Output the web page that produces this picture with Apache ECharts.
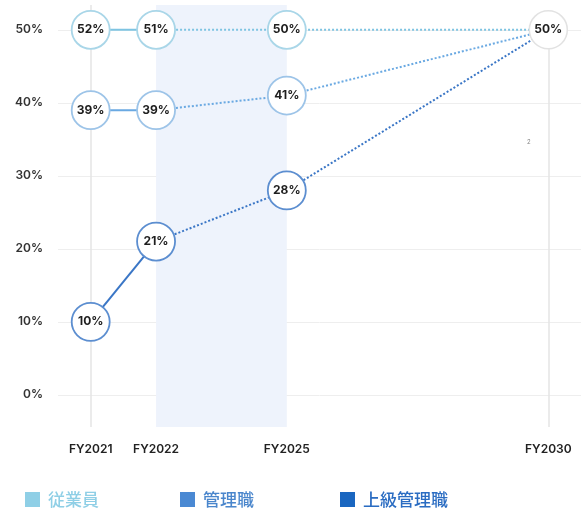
<!DOCTYPE html>
<html>
<head>
<meta charset="utf-8">
<script src="https://cdn.jsdelivr.net/npm/echarts@6/dist/echarts.min.js"></script>
<style>
html,body{margin:0;padding:0;background:#fff;}
#c{width:585px;height:510px;}
</style>
</head>
<body>
<div id="c"></div>
<script>
// ---- data ----
const categories = ['FY2021', 'FY2022', '', 'FY2025', '', '', '', 'FY2030'];
const yearKeys = ['FY2021', 'FY2022', 'FY2025', 'FY2030'];
const employees = [52, 51, 50, 50];
const managers = [39, 39, 41, 50];
const seniorManagers = [10, 21, 28, 50];
const seriesNames = ['従業員', '管理職', '上級管理職'];
const yTicks = [0, 10, 20, 30, 40, 50];
// the original chart draws its top row on the 50% line
const displayCap = 50;

const font = 'Inter, "Noto Sans", sans-serif';
const cjk = '"Noto Sans CJK JP", "Noto Sans", sans-serif';
const yMin = -4.4, yMax = 53.4;

const groups = [
  { name: seriesNames[0], values: employees, color: '#8fcfe6', text: '#8fcfe6', line: '#7ec4e2', border: '#a9d6e8' },
  { name: seriesNames[1], values: managers, color: '#4a89d3', text: '#4a86cc', line: '#6aa9e2', border: '#9dc4e8' },
  { name: seriesNames[2], values: seniorManagers, color: '#1a66c0', text: '#2a6cc2', line: '#3a76c6', border: '#5c8ed0' }
];

const series = [];
// background helper: shaded band + vertical guide lines
series.push({
  name: 'bg', type: 'line', z: 0, data: [], silent: true,
  markArea: {
    silent: true, z: 0,
    itemStyle: { color: '#eef3fc' },
    data: [[{ xAxis: 'FY2022', yAxis: yMax }, { xAxis: 'FY2025', yAxis: yMin }]]
  },
  markLine: {
    silent: true, z: 1, symbol: 'none', label: { show: false },
    lineStyle: { color: '#e4e4e4', width: 1.5, type: 'solid' },
    data: [
      [{ coord: ['FY2021', yMax] }, { coord: ['FY2021', yMin] }],
      [{ coord: ['FY2030', displayCap] }, { coord: ['FY2030', yMin] }]
    ]
  }
});
groups.forEach((g) => {
  const v = g.values;
  const pt = i => [yearKeys[i], Math.min(v[i], displayCap), v[i]];
  series.push({
    name: g.name, type: 'line', color: g.color, z: 2,
    showSymbol: false, symbol: 'none',
    lineStyle: { color: g.line, width: 2, type: 'solid' },
    data: [pt(0), pt(1)]
  });
  series.push({
    name: g.name, type: 'line', color: g.color, z: 2,
    showSymbol: false, symbol: 'none',
    lineStyle: { color: g.line, width: 2, type: [2, 2] },
    data: [pt(1), pt(2), pt(3)]
  });
  series.push({
    name: g.name, type: 'scatter', color: g.color, z: 4,
    symbol: 'circle', symbolSize: 38,
    itemStyle: { color: '#fff', borderColor: g.border, borderWidth: 1.8, opacity: 1 },
    label: {
      show: true, position: 'inside', color: '#1e1e1e',
      fontFamily: font, fontSize: 12, fontWeight: 'bold',
      formatter: p => p.data[2] + '%'
    },
    data: [pt(0), pt(1), pt(2)]
  });
});
// common target point FY2030
series.push({
  name: 'target', type: 'scatter', z: 5,
  symbol: 'circle', symbolSize: 38,
  itemStyle: { color: '#fff', borderColor: '#e2e2e2', borderWidth: 1.5, opacity: 1 },
  label: {
    show: true, position: 'inside', color: '#1e1e1e',
    fontFamily: font, fontSize: 12, fontWeight: 'bold',
    formatter: p => p.data[2] + '%'
  },
  data: [[yearKeys[3], Math.min(employees[3], displayCap), employees[3]]]
});

const legendLefts = [20, 175, 335];
const legends = groups.map((g, i) => ({
  left: legendLefts[i], top: 486,
  icon: 'rect', itemWidth: 15, itemHeight: 15, itemGap: 0,
  selectedMode: false,
  data: [{ name: g.name, textStyle: { color: g.text } }],
  textStyle: { fontFamily: cjk, fontSize: 17, fontWeight: 500, padding: [0, 0, 0, 3] }
}));

const chart = echarts.init(document.getElementById('c'), null, { renderer: 'canvas' });
chart.setOption({
  animation: false,
  backgroundColor: '#fff',
  grid: { left: 58, right: 4, top: 5, bottom: 83, containLabel: false },
  legend: legends,
  xAxis: {
    type: 'category', data: categories, boundaryGap: true,
    axisLine: { show: false }, axisTick: { show: false }, splitLine: { show: false },
    axisLabel: { interval: 0, margin: 16, color: '#222', fontFamily: font, fontSize: 12, fontWeight: 600 }
  },
  yAxis: {
    type: 'value', min: yMin, max: yMax,
    axisLine: { show: false }, axisTick: { show: false },
    splitLine: { show: true, showMinLine: false, showMaxLine: false, lineStyle: { color: '#eeeeee', width: 1 } },
    axisLabel: {
      showMinLabel: false, showMaxLabel: false, margin: 15,
      color: '#333', fontFamily: font, fontSize: 12, fontWeight: 600,
      formatter: v => (yTicks.indexOf(v) >= 0 ? v + '%' : '')
    }
  },
  graphic: [{
    type: 'text', left: 527, top: 139,
    style: { text: '2', fontSize: 6, fill: '#888', fontFamily: font }
  }],
  series: series
});
</script>
</body>
</html>
